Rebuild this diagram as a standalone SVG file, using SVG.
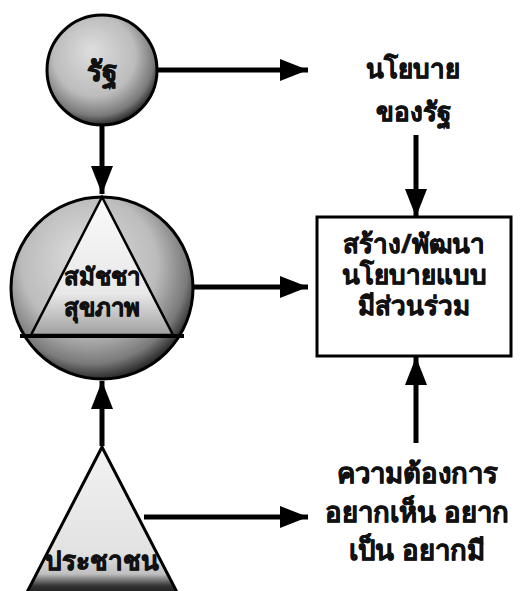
<svg xmlns="http://www.w3.org/2000/svg" width="521" height="591" viewBox="0 0 521 591">
<style>
.t{font-family:"Noto Sans","Liberation Sans",sans-serif;font-weight:bold;font-size:26px;fill:#111;stroke:#111;stroke-width:0.6px;text-anchor:middle}
.n{font-family:"Noto Sans","Liberation Sans",sans-serif;font-weight:bold;font-size:24px;fill:#111;stroke:#111;stroke-width:0.7px;text-anchor:middle}
.c{stroke:#000;stroke-width:5;fill:none}
</style>
<defs>
<marker id="ah" markerUnits="userSpaceOnUse" markerWidth="28" markerHeight="22" refX="28" refY="11" orient="auto">
<path d="M0,0 L28,11 L0,22 z" fill="#000"/>
</marker>
<radialGradient id="ball" cx="0.45" cy="0.4" r="0.62" fx="0.4" fy="0.32">
<stop offset="0" stop-color="#dedede"/>
<stop offset="0.6" stop-color="#bcbcbc"/>
<stop offset="0.85" stop-color="#7a7a7a"/>
<stop offset="1" stop-color="#1a1a1a"/>
</radialGradient>
<linearGradient id="tri" x1="0" y1="0" x2="0" y2="1">
<stop offset="0" stop-color="#fafafa"/>
<stop offset="0.7" stop-color="#e8e8e8"/>
<stop offset="1" stop-color="#a0a0a0"/>
</linearGradient>
<linearGradient id="tri2" x1="0" y1="0" x2="0" y2="1">
<stop offset="0" stop-color="#f2f2f2"/>
<stop offset="0.7" stop-color="#e2e2e2"/>
<stop offset="0.84" stop-color="#c0c0c0"/>
<stop offset="0.92" stop-color="#333"/>
<stop offset="1" stop-color="#111"/>
</linearGradient>
</defs>
<rect width="521" height="591" fill="#fff"/>
<g id="connectors">
<line class="c" x1="158" y1="70" x2="308" y2="70" marker-end="url(#ah)"/>
<line class="c" x1="102" y1="126" x2="102" y2="194" marker-end="url(#ah)"/>
<line class="c" x1="193" y1="287" x2="308" y2="287" marker-end="url(#ah)"/>
<line class="c" x1="416" y1="135" x2="416" y2="217" marker-end="url(#ah)"/>
<line class="c" x1="416" y1="443" x2="416" y2="357" marker-end="url(#ah)"/>
<line class="c" x1="102" y1="446" x2="102" y2="381" marker-end="url(#ah)"/>
<line class="c" x1="144" y1="517" x2="308" y2="517" marker-end="url(#ah)"/>
</g>
<g id="state">
<circle cx="102" cy="70" r="55" fill="url(#ball)" stroke="#000" stroke-width="3"/>
<text class="n" x="102" y="81" style="font-size:28px">รัฐ</text>
</g>
<g id="assembly">
<circle cx="102" cy="288" r="91" fill="url(#ball)" stroke="#000" stroke-width="3"/>
<polygon points="102,197 31,335 173,335" fill="url(#tri)" stroke="#000" stroke-width="2.5"/>
<line x1="20" y1="336" x2="184" y2="336" stroke="#000" stroke-width="4"/>
<text class="n" x="102" y="285">สมัชชา</text>
<text class="n" x="102" y="316">สุขภาพ</text>
</g>
<g id="people">
<polygon points="102,447 24,598 180,598" fill="url(#tri2)" stroke="#000" stroke-width="3"/>
<text class="n" x="102" y="570" style="font-size:26px">ประชาชน</text>
</g>
<g id="policy">
<text class="t" x="413" y="78">นโยบาย</text>
<text class="t" x="413" y="121">ของรัฐ</text>
</g>
<g id="participatory">
<rect x="317" y="217" width="194" height="139" fill="#fff" stroke="#000" stroke-width="3"/>
<text class="t" x="414" y="253">สร้าง/พัฒนา</text>
<text class="t" x="414" y="284">นโยบายแบบ</text>
<text class="t" x="414" y="315">มีส่วนร่วม</text>
</g>
<g id="needs">
<text class="t" x="417" y="483" style="font-size:27.5px">ความต้องการ</text>
<text class="t" x="417" y="522" style="font-size:27.5px">อยากเห็น อยาก</text>
<text class="t" x="417" y="560" style="font-size:27.5px">เป็น อยากมี</text>
</g>
</svg>
